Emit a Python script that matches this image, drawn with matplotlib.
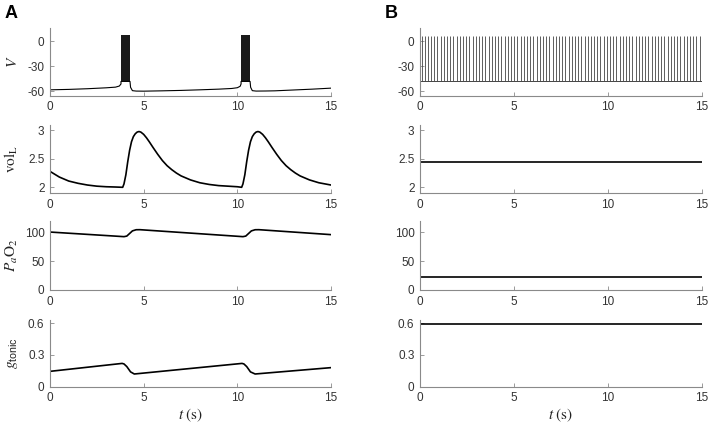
import matplotlib
matplotlib.use("Agg")
import matplotlib.pyplot as plt
import numpy as np

plt.rcParams['font.family'] = ['Liberation Sans', 'DejaVu Sans']
plt.rcParams['mathtext.fontset'] = 'stix'

# ---------------- Data ----------------
# Panel A: membrane potential baseline (t, V) and burst intervals
A_V_t = [0, 1, 2, 3, 3.5, 3.7, 3.79, 3.79, 4.27, 4.3, 4.4, 4.6, 5, 6, 7, 8, 9, 9.7, 10.0, 10.15, 10.2,
         10.2, 10.68, 10.71, 10.8, 11.0, 11.5, 12, 13, 14, 15]
A_V_v = [-58, -57.5, -56.7, -55.6, -54.8, -53.5, -51, -48, -48, -55, -59, -59.5, -59.6, -59.2, -58.7, -58.0,
         -57.2, -56.4, -55.5, -53.8, -51, -48, -48, -55, -59, -59.5, -59.4, -59.2, -58.2, -57.2, -56]
A_bursts = [(3.79, 4.27), (10.20, 10.68)]
A_burst_top = 7
A_burst_bottom = -47.5

# Panel B: tonic spiking
B_spike_times = [0.08, 0.25, 0.42, 0.59, 0.76, 0.93, 1.10, 1.27, 1.44, 1.61, 1.78, 1.95, 2.12, 2.29, 2.46,
                 2.63, 2.80, 2.97, 3.14, 3.31, 3.48, 3.65, 3.82, 3.99, 4.16, 4.33, 4.50, 4.67, 4.84, 5.01,
                 5.18, 5.35, 5.52, 5.69, 5.86, 6.03, 6.20, 6.37, 6.54, 6.71, 6.88, 7.05, 7.22, 7.39, 7.56,
                 7.73, 7.90, 8.07, 8.24, 8.41, 8.58, 8.75, 8.92, 9.09, 9.26, 9.43, 9.60, 9.77, 9.94, 10.11,
                 10.28, 10.45, 10.62, 10.79, 10.96, 11.13, 11.30, 11.47, 11.64, 11.81, 11.98, 12.15, 12.32,
                 12.49, 12.66, 12.83, 13.00, 13.17, 13.34, 13.51, 13.68, 13.85, 14.02, 14.19, 14.36, 14.53,
                 14.70, 14.87]
B_spike_peak = 6
B_spike_trough = -48
B_V_baseline_t = [0, 15]
B_V_baseline_v = [-47.5, -47.5]

# vol_L
A_vol_t = [0, 0.5, 1, 1.5, 2, 2.5, 3, 3.5, 3.88, 3.95, 4.05, 4.15, 4.25, 4.35, 4.45, 4.55, 4.65, 4.75,
           4.85, 5.0, 5.15, 5.3, 5.5, 5.75, 6.0, 6.25, 6.5, 6.75, 7.0, 7.5, 8.0, 8.5, 9.0, 10.0, 10.23,
           10.3, 10.4, 10.5, 10.6, 10.7, 10.8, 10.9, 11.0, 11.1, 11.2, 11.35, 11.5, 11.65, 11.85, 12.1,
           12.35, 12.6, 12.85, 13.1, 13.35, 13.85, 14.35, 15]
A_vol_v = [2.28, 2.18, 2.11, 2.07, 2.04, 2.02, 2.01, 2.005, 2.0, 2.06, 2.22, 2.45, 2.65, 2.8, 2.89, 2.94,
           2.97, 2.98, 2.97, 2.93, 2.87, 2.8, 2.7, 2.58, 2.47, 2.38, 2.31, 2.25, 2.2, 2.13, 2.08, 2.05,
           2.03, 2.01, 2.0, 2.06, 2.22, 2.45, 2.65, 2.8, 2.89, 2.94, 2.97, 2.98, 2.97, 2.93, 2.87, 2.8,
           2.7, 2.58, 2.47, 2.38, 2.31, 2.25, 2.2, 2.13, 2.08, 2.04]
B_vol_t = [0, 15]
B_vol_v = [2.44, 2.44]

# PaO2
A_po2_t = [0, 3.95, 4.1, 4.25, 4.4, 4.6, 4.8, 10.3, 10.45, 10.6, 10.75, 10.95, 11.15, 15]
A_po2_v = [100.5, 92.5, 93.5, 98, 102.5, 104.5, 104.6, 92.5, 93.5, 98, 102.5, 104.5, 104.6, 96]
B_po2_t = [0, 15]
B_po2_v = [22.6, 22.6]

# g_tonic
A_g_t = [0, 3.85, 3.95, 4.1, 4.3, 4.5, 10.25, 10.35, 10.5, 10.7, 10.95, 15]
A_g_v = [0.145, 0.22, 0.215, 0.19, 0.14, 0.12, 0.22, 0.215, 0.19, 0.14, 0.12, 0.18]
B_g_t = [0, 15]
B_g_v = [0.59, 0.59]

x_ticks = [0, 5, 10, 15]
V_ticks = [-60, -30, 0]
vol_ticks = [2, 2.5, 3]
vol_ticklabels = ['2', '2.5', '3']
po2_ticks = [0, 50, 100]
g_ticks = [0, 0.3, 0.6]
g_ticklabels = ['0', '0.3', '0.6']

ylabels = [r'$V$', r'$\mathrm{vol}_{\mathrm{L}}$', r'$P_{a}\mathrm{O}_{2}$', r'$g_{\mathregular{tonic}}$']
ylims = [(-65, 15), (1.9, 3.1), (0, 120), (0, 0.63)]
yticks = [(V_ticks, ['-60', '-30', '0']), (vol_ticks, vol_ticklabels),
          (po2_ticks, ['0', '50', '100']), (g_ticks, g_ticklabels)]

# ---------------- Figure ----------------
W, H = 709, 423
fig = plt.figure(figsize=(W / 100, H / 100), dpi=100)

def px_axes(x0, x1, ytop, ybot):
    return fig.add_axes([x0 / W, 1 - ybot / H, (x1 - x0) / W, (ybot - ytop) / H])

rows = [(28.5, 95.7), (124.7, 193), (220.8, 290), (320, 386.7)]
cols = [(50, 331), (420, 702)]

axes = [[px_axes(c[0], c[1], r[0], r[1]) for c in cols] for r in rows]

axis_gray = '#8a8a8a'
tick_color = '#333333'
for i in range(4):
    for j in range(2):
        ax = axes[i][j]
        ax.set_xlim(0, 15)
        ax.set_ylim(*ylims[i])
        ax.set_xticks(x_ticks)
        ax.set_xticklabels([str(v) for v in x_ticks])
        ax.set_yticks(yticks[i][0])
        ax.set_yticklabels(yticks[i][1])
        for s in ['top', 'right']:
            ax.spines[s].set_visible(False)
        for s in ['left', 'bottom']:
            ax.spines[s].set_color(axis_gray)
            ax.spines[s].set_linewidth(0.8)
        ax.tick_params(direction='in', length=3, width=0.6, color=axis_gray,
                       labelsize=8.5, labelcolor=tick_color, pad=4)
        ax.patch.set_alpha(0)

# Panel A traces
ax = axes[0][0]
ax.plot(A_V_t, A_V_v, color='black', lw=0.8)
for (b0, b1) in A_bursts:
    ax.fill_between([b0, b1], [A_burst_bottom] * 2, [A_burst_top] * 2, color='#1a1a1a', lw=0)
axes[1][0].plot(A_vol_t, A_vol_v, color='black', lw=1.2)
axes[2][0].plot(A_po2_t, A_po2_v, color='black', lw=1.2)
axes[3][0].plot(A_g_t, A_g_v, color='black', lw=1.2)

# Panel B traces
ax = axes[0][1]
ax.vlines(B_spike_times, B_spike_trough, B_spike_peak, color='#444444', lw=0.6)
ax.plot(B_V_baseline_t, B_V_baseline_v, color='#444444', lw=0.7)
axes[1][1].plot(B_vol_t, B_vol_v, color='black', lw=1.2)
axes[2][1].plot(B_po2_t, B_po2_v, color='black', lw=1.2)
axes[3][1].plot(B_g_t, B_g_v, color='black', lw=1.2)

# y labels (left column only)
for i in range(4):
    ax = axes[i][0]
    ax.set_ylabel(ylabels[i], fontsize=11, color='#222222')
    ax.yaxis.set_label_coords(-0.105, 0.5)

# x labels (bottom row)
for j in range(2):
    axes[3][j].set_xlabel(r'$t\ (\mathrm{s})$', fontsize=11, color='#222222', labelpad=2)

# Panel letters
fig.text(5 / W, 1 - 14 / H, 'A', fontsize=13, fontweight='bold', va='center', ha='left')
fig.text(385 / W, 1 - 14 / H, 'B', fontsize=13, fontweight='bold', va='center', ha='left')

fig.savefig('out.png', dpi=100)
